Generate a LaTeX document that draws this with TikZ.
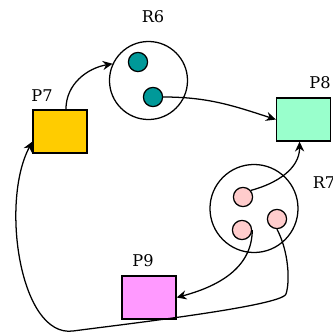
\documentclass[tikz,border=0pt]{standalone}
\usepackage{fontspec}
\setmainfont{DejaVu Serif}
\usetikzlibrary{arrows.meta}

\definecolor{gold}{HTML}{FFCC00}
\definecolor{mint}{HTML}{99FFCC}
\definecolor{orchid}{HTML}{FF99FF}
\definecolor{tealtok}{HTML}{009999}
\definecolor{pinktok}{HTML}{FFCCCC}

\tikzset{
  place/.style={draw, line width=0.9pt, minimum width=1.35cm, minimum height=1.075cm, inner sep=0pt},
  region/.style={draw, circle, line width=0.9pt, inner sep=0pt},
  token/.style={draw, circle, line width=0.9pt, minimum size=0.48cm, inner sep=0pt},
  flow/.style={-{Stealth[length=7pt, width=6.5pt]}, line width=0.9pt},
  tag/.style={font=\fontsize{11.5}{13}\selectfont, inner sep=0pt}
}

\begin{document}
\begin{tikzpicture}[x=0.025cm, y=0.025cm]
  \useasboundingbox (0,0) rectangle (332,332);

  % places
  \node [place, fill=gold] (P7) at (60,200.5) {};
  \node [place, fill=mint] (P8) at (303.5,212.5) {};
  \node [place, fill=orchid] (P9) at (149,34.5) {};

  % regions with their tokens
  \node [region, minimum size=1.95cm] (R6) at (148.5,251.5) {};
  \node [region, minimum size=2.2cm] (R7) at (254,123.5) {};
  \node [token, fill=tealtok] (t6a) at (138,270) {};
  \node [token, fill=tealtok] (t6b) at (153,235) {};
  \node [token, fill=pinktok] (t7a) at (243,135) {};
  \node [token, fill=pinktok] (t7b) at (242,102) {};
  \node [token, fill=pinktok] (t7c) at (277,113) {};

  % labels
  \node [tag] (lR6) at (153,315) {R6};
  \node [tag] (lP7) at (42,236) {P7};
  \node [tag] (lP8) at (320,249) {P8};
  \node [tag] (lR7) at (324,149) {R7};
  \node [tag] (lP9) at (143,71) {P9};

  % arcs
  \draw [flow] (P7.75) to[out=90, in=190] (R6.155);
  \draw [flow] (t6b.east) to[out=0, in=162] (P8.west);
  \draw [flow] (t7a.40) to[out=15, in=-90] (P8.-100);
  \draw [flow] (t7b.east) to[out=-90, in=15] (P9.east);
  \draw [flow] (t7c.south) .. controls (289,80) and (290,50) .. (286,38)
    .. controls (282,26) and (126,8) .. (73,1)
    .. controls (20,-6) and (0,130) .. (P7.-160);
\end{tikzpicture}
\end{document}
